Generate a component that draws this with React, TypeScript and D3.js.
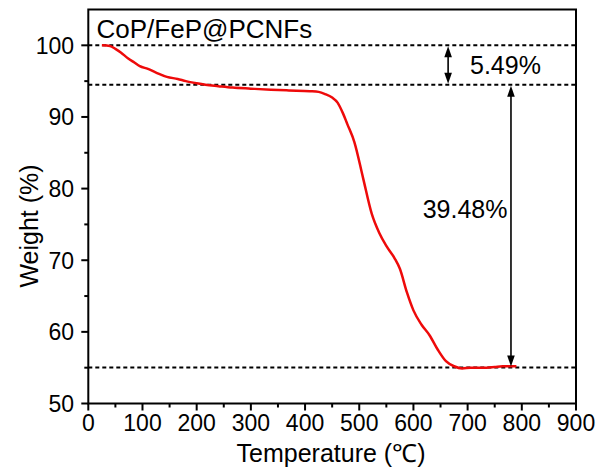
import React from "react";
import * as d3 from "d3";

const temps = [25, 40, 50, 60, 73, 85, 95, 110, 125, 145, 165, 180, 200, 216, 240, 266, 300, 337, 370, 409, 425, 437, 450, 460, 470, 478, 491, 507, 523, 537, 550, 565, 575, 588, 600, 615, 630, 645, 660, 675, 690, 705, 720, 735, 750, 765, 783, 790];
const weights = [100, 99.9, 99.5, 99.0, 98.2, 97.6, 97.1, 96.7, 96.2, 95.6, 95.3, 95.0, 94.7, 94.5, 94.3, 94.1, 93.95, 93.8, 93.7, 93.6, 93.5, 93.2, 92.7, 92.0, 90.5, 89.0, 86.5, 81.5, 76.5, 73.8, 72.0, 70.3, 68.8, 65.5, 63.0, 61.0, 59.5, 57.5, 55.9, 55.2, 54.9, 55.0, 55.0, 55.0, 55.1, 55.2, 55.2, 55.2];
const xTicks = [0, 100, 200, 300, 400, 500, 600, 700, 800, 900];
const xMinor = [50, 150, 250, 350, 450, 550, 650, 750, 850];
const yTicks = [50, 60, 70, 80, 90, 100];
const yMinor = [55, 65, 75, 85, 95];
const refLevels = [100, 94.51, 55.03];
const arrows = [
  { t: 664, from: 100, to: 94.51, label: "5.49%" },
  { t: 780, from: 94.51, to: 55.03, label: "39.48%" },
];
const sampleName = "CoP/FeP@PCNFs";

const FONT = "'Liberation Sans', Arial, Helvetica, sans-serif";

export default function App() {
  const L = 88.3, R = 576, T = 9.5, B = 403.5;
  const x = d3.scaleLinear().domain([0, 900]).range([L, R]);
  const y = d3.scaleLinear().domain([50, 105]).range([B, T]);
  const pts = temps.map((t, i) => [t, weights[i]] as [number, number]);
  const line = d3.line<[number, number]>().x(d => x(d[0])).y(d => y(d[1])).curve(d3.curveMonotoneX);

  const head = (px: number, py: number, dir: number) => {
    const hl = 11, hw = 3.8;
    return `M${px},${py} L${px - hw},${py - dir * hl} L${px + hw},${py - dir * hl} Z`;
  };

  return (
    <svg width={602} height={475} style={{ position: "absolute", left: 0, top: 0, background: "#fff" }} fontFamily={FONT}>
      {refLevels.map((v, i) => (
        <line key={i} x1={L} x2={R} y1={y(v)} y2={y(v)} stroke="#000" strokeWidth={2} strokeDasharray="4,3" />
      ))}
      <path d={line(pts) || ""} fill="none" stroke="#ee0a0a" strokeWidth={2.5} />
      {arrows.map((a, i) => {
        const px = x(a.t);
        const y1 = y(a.from), y2 = y(a.to);
        return (
          <g key={i}>
            <line x1={px} x2={px} y1={y1 + 6} y2={y2 - 6} stroke="#000" strokeWidth={1.6} />
            <path d={head(px, y1 + 1, -1)} fill="#000" />
            <path d={head(px, y2 - 1, 1)} fill="#000" />
          </g>
        );
      })}
      <text x={470} y={y(97.25)} dy="0.36em" fontSize={25}>{arrows[0].label}</text>
      <text x={507.5} y={209} dy="0.36em" fontSize={25} textAnchor="end">{arrows[1].label}</text>
      <text x={96.5} y={38.3} fontSize={26}>{sampleName}</text>

      <rect x={L} y={T} width={R - L} height={B - T} fill="none" stroke="#000" strokeWidth={2} />
      {xTicks.map(t => (
        <g key={t}>
          <line x1={x(t)} x2={x(t)} y1={B} y2={B + 7} stroke="#000" strokeWidth={2} />
          <text x={x(t)} y={431} fontSize={23} textAnchor="middle">{t}</text>
        </g>
      ))}
      {xMinor.map(t => (
        <line key={t} x1={x(t)} x2={x(t)} y1={B} y2={B + 4} stroke="#000" strokeWidth={2} />
      ))}
      {yTicks.map(v => (
        <g key={v}>
          <line x1={L - 7} x2={L} y1={y(v)} y2={y(v)} stroke="#000" strokeWidth={2} />
          <text x={74} y={y(v)} dy="0.36em" fontSize={23} textAnchor="end">{v}</text>
        </g>
      ))}
      {yMinor.map(v => (
        <line key={v} x1={L - 4} x2={L} y1={y(v)} y2={y(v)} stroke="#000" strokeWidth={2} />
      ))}
      <text x={331} y={462} fontSize={25} textAnchor="middle">Temperature (℃)</text>
      <text transform={`translate(38,226) rotate(-90)`} fontSize={25} textAnchor="middle">Weight (%)</text>
    </svg>
  );
}
